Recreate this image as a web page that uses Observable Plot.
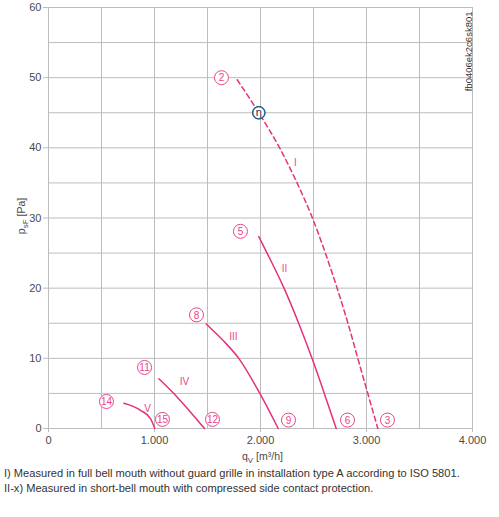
<!DOCTYPE html>
<html><head><meta charset="utf-8">
<script src="https://cdn.jsdelivr.net/npm/d3@7"></script>
<script src="https://cdn.jsdelivr.net/npm/@observablehq/plot@0.6"></script>
<style>
body{margin:0;background:#fff;font-family:"Liberation Sans",Arial,sans-serif}
#wrap{position:relative;width:499px;height:517px}
#notes{position:absolute;left:4px;top:466px;font-size:11.1px;color:#333;line-height:15px;white-space:nowrap}
</style></head><body>
<div id="wrap"><div id="chart"></div>
<div id="notes">I) Measured in full bell mouth without guard grille in installation type A according to ISO 5801.<br>II-x) Measured in short-bell mouth with compressed side contact protection.</div></div>
<script>
// Curves: [q m³/h, p Pa]
const curveI   = [[1780,49.7],[1984,45],[2180,40],[2345,35],[2490,30],[2612,25],[2723,20],[2825,15],[2918,10],[3012,5],[3107,0]];
const curveII  = [[1984,27.35],[2062,25],[2222,20],[2360,15],[2486,10],[2602,5],[2714,0]];
const curveIII = [[1488,14.9],[1650,12.5],[1795,10],[1994,5],[2167,0]];
const curveIV  = [[1041,7.1],[1182,5],[1330,2.5],[1472,0]];
const curveV   = [[711,3.6],[868,2.6],[962,1.4],[1003,0]];

const pointNames = ["2","3","5","6","8","9","11","12","14","15"];
const pointQ     = [1632,3198,1811,2821,1396,2264,906,1547,547,1075];
const pointP     = [50,1.2,28.1,1.2,16.2,1.2,8.7,1.3,3.85,1.3];

const curveNames = ["I","II","III","IV","V"];
const curveLabQ  = [2330,2226,1745,1283,934];
const curveLabP  = [37.9,22.8,13.1,6.7,2.85];

const etaPoint = [[1984,45]];

const xTicks = [0,1000,2000,3000,4000];
const yTicks = [0,10,20,30,40,50,60];

const pink = "#e5317b";
const pinkText = "#e8468a";
const gridColor = "#bdbdbd";
const tickColor = "#4a4a4a";

const toObj = arr => arr.map(([q,p]) => ({q,p}));
const points = pointNames.map((n,i)=>({n,q:pointQ[i],p:pointP[i]}));
const curveLabels = curveNames.map((n,i)=>({n,q:curveLabQ[i],p:curveLabP[i]}));

const fmt = d => d3.format(",")(d).replace(/,/g,".");

const plot = Plot.plot({
  width: 499, height: 466,
  marginLeft: 48, marginRight: 27, marginTop: 7, marginBottom: 38,
  x: {domain:[0,4000]},
  y: {domain:[0,60]},
  style: {fontFamily:"Liberation Sans, Arial, sans-serif", background:"#fff"},
  marks: [
    Plot.ruleX(d3.range(0,4001,500), {stroke:gridColor, strokeWidth:1}),
    Plot.ruleY(d3.range(0,61,5), {stroke:gridColor, strokeWidth:1}),
    Plot.axisX({ticks:xTicks, tickFormat:fmt, tickSize:4, tickPadding:4, label:null, fontSize:11, color:tickColor, stroke:gridColor}),
    Plot.axisY({ticks:yTicks, tickSize:5, tickPadding:2, label:null, fontSize:11, color:tickColor, stroke:gridColor}),
    Plot.line(toObj(curveI), {x:"q", y:"p", stroke:pink, strokeWidth:1.5, strokeDasharray:"5,3.5", curve:"monotone-x"}),
    Plot.line(toObj(curveII), {x:"q", y:"p", stroke:pink, strokeWidth:1.5, curve:"monotone-x"}),
    Plot.line(toObj(curveIII), {x:"q", y:"p", stroke:pink, strokeWidth:1.5, curve:"monotone-x"}),
    Plot.line(toObj(curveIV), {x:"q", y:"p", stroke:pink, strokeWidth:1.5, curve:"monotone-x"}),
    Plot.line(toObj(curveV), {x:"q", y:"p", stroke:pink, strokeWidth:1.5, curve:"monotone-x"}),
    Plot.dot(points, {x:"q", y:"p", r:7, stroke:pinkText, strokeWidth:1, fill:"white"}),
    Plot.text(points, {x:"q", y:"p", text:"n", fill:pinkText, fontSize:10, dy:0.5}),
    Plot.text(curveLabels, {x:"q", y:"p", text:"n", fill:pinkText, fontSize:10}),
    Plot.dot(toObj(etaPoint), {x:"q", y:"p", r:6, stroke:"#3ba7d8", strokeWidth:1.5, fill:"white"}),
    Plot.dot(toObj(etaPoint), {x:"q", y:"p", r:6.3, stroke:"#1d2a4a", strokeWidth:0.8, fill:"none"}),
    Plot.text(toObj(etaPoint), {x:"q", y:"p", text:()=>"η", fill:"#1d2a4a", fontSize:11, dy:0}),
    Plot.text(["fb0406ek2c6sk801"], {frameAnchor:"top-right", text:d=>d, rotate:-90, textAnchor:"end", dx:-7, dy:4, fontSize:9.5, fill:"#333"})
  ]
});
document.getElementById("chart").append(plot);

const svg = d3.select(plot);
// y axis label
const yl = svg.append("text").attr("transform","translate(25,216) rotate(-90)")
  .attr("text-anchor","middle").attr("font-size",10.5).attr("fill",tickColor);
yl.append("tspan").text("p");
yl.append("tspan").attr("font-size",8).attr("dy",3).text("sF");
yl.append("tspan").attr("dy",-3).text(" [Pa]");
// x axis label
const xl = svg.append("text").attr("x",242).attr("y",460)
  .attr("text-anchor","start").attr("font-size",10.5).attr("fill",tickColor);
xl.append("tspan").text("q");
xl.append("tspan").attr("font-size",8).attr("dy",2.5).text("V");
xl.append("tspan").attr("dy",-2.5).text(" [m³/h]");
</script>
</body></html>
